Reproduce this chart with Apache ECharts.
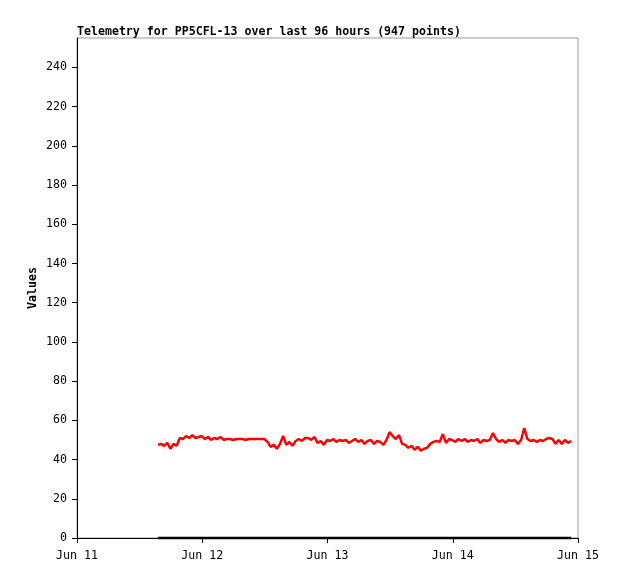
<!DOCTYPE html>
<html><head><meta charset="utf-8">
<script src="https://cdn.jsdelivr.net/npm/echarts@6/dist/echarts.min.js"></script>
<style>html,body{margin:0;padding:0;background:#fff}#c{width:618px;height:579px}</style>
</head><body><div id="c"></div>
<script>
const titleText = 'Telemetry for PP5CFL-13 over last 96 hours (947 points)';
const yAxisName = 'Values';
const monthNames = ['Jan','Feb','Mar','Apr','May','Jun','Jul','Aug','Sep','Oct','Nov','Dec'];
// hours since Jun 11 00:00
const hours = [15.5,16.1,16.7,17.3,17.9,18.5,19.1,19.7,20.3,20.9,21.5,22.1,22.7,23.3,23.9,24.5,25.1,25.7,26.3,26.9,
27.5,28.1,28.7,29.3,29.9,30.5,31.1,31.7,32.3,32.9,33.5,34.1,34.7,35.3,35.9,36.5,37.1,37.7,38.3,38.9,
39.5,40.1,40.7,41.3,41.9,42.5,43.1,43.7,44.3,44.9,45.5,46.1,46.7,47.3,47.9,48.5,49.1,49.7,50.3,50.9,
51.5,52.1,52.7,53.3,53.9,54.5,55.1,55.7,56.3,56.9,57.5,58.1,58.7,59.3,59.9,60.5,61.1,61.7,62.3,62.9,
63.5,64.1,64.7,65.3,65.9,66.5,67.1,67.7,68.3,68.9,69.5,70.1,70.7,71.3,71.9,72.5,73.1,73.7,74.3,74.9,
75.5,76.1,76.7,77.3,77.9,78.5,79.1,79.7,80.3,80.9,81.5,82.1,82.7,83.3,83.9,84.5,85.1,85.7,86.3,86.9,
87.5,88.1,88.7,89.3,89.9,90.5,91.1,91.7,92.3,92.9,93.5,94.1,94.7];
const redValues = [47.5,48,47,48.5,45.5,48,47,51,50.5,52,51,52.5,51,51.5,52,50.5,51.5,50,51,50.5,
51.5,50,50.5,50.5,50,50.5,50.5,50.5,50,50.5,50.5,50.5,50.5,50.5,50.5,49,46.5,47.5,45.5,48,
52,47.5,49,47,49.5,50.5,49.5,51,51,50,51.5,48.5,49.5,47.5,50,49.5,50.5,49,50,49.5,
50,48.5,49.5,50.5,49,50,48,49.5,50,48,49.5,49,47.5,50,54,52,50.5,52.5,48,47.5,
46,47,45,46.5,44.5,45.5,46,48,49,49.5,49,53,48.5,50.5,50,49,50.5,49.5,50.5,49,
50,49.5,50.5,48.5,50,49.5,50,53.5,50.5,49,50,48.5,50,49.5,50,48,50,56,50.5,49.5,
50,49,50,49.5,50.5,51,50.5,48,50,48,50,48.5,49.5];
const blackHours = [15.5, 94.7];
const blackValues = [0, 0];

const base = new Date(2024, 5, 11, 0, 0, 0).getTime();
const H = 3600 * 1000;
const redData = hours.map((h, i) => [base + h * H, redValues[i]]);
const blackData = blackHours.map((h, i) => [base + h * H, blackValues[i]]);
const font = '"DejaVu Sans Mono", "Liberation Mono", monospace';

const chart = echarts.init(document.getElementById('c'), null, {renderer: 'canvas'});
chart.setOption({
  animation: false,
  backgroundColor: '#fff',
  title: {text: titleText, left: 72, top: 21,
    textStyle: {fontFamily: font, fontSize: 11.6, fontWeight: 'bold', color: '#000'}},
  grid: {left: 77, right: 40, top: 38, bottom: 41, show: true, borderColor: '#999', borderWidth: 1},
  xAxis: {
    type: 'time', min: base, max: base + 96 * H, interval: 24 * H,
    axisLine: {lineStyle: {color: '#000', width: 1}},
    axisTick: {show: true, length: 5, lineStyle: {color: '#000'}},
    splitLine: {show: false},
    axisLabel: {fontFamily: font, fontSize: 11.6, color: '#000', margin: 12,
      showMinLabel: true, showMaxLabel: true,
      formatter: v => { const d = new Date(v); return monthNames[d.getMonth()] + ' ' + d.getDate(); }}
  },
  yAxis: {
    type: 'value', min: 0, max: 255, interval: 20,
    name: yAxisName, nameLocation: 'middle', nameGap: 38, nameMoveOverlap: false,
    nameTextStyle: {fontFamily: font, fontSize: 11.6, fontWeight: 'bold', color: '#000'},
    axisLine: {show: true, lineStyle: {color: '#000'}},
    axisTick: {show: true, length: 5, lineStyle: {color: '#000'}},
    splitLine: {show: false},
    axisLabel: {fontFamily: font, fontSize: 11.6, color: '#000', margin: 10, showMaxLabel: false}
  },
  series: [
    {type: 'line', data: redData, showSymbol: false, lineStyle: {color: '#ff0000', width: 2.5}, z: 3},
    {type: 'line', data: blackData, showSymbol: false, clip: false, lineStyle: {color: '#000', width: 2.5}, z: 2}
  ]
});
</script></body></html>
